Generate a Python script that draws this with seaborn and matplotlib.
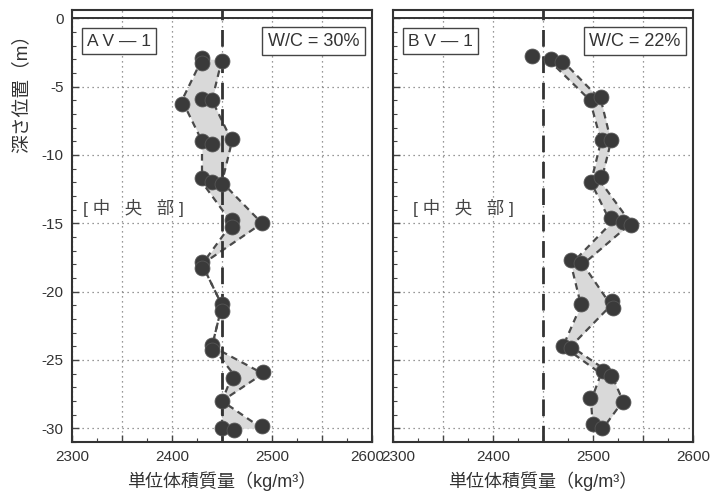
import numpy as np
import pandas as pd
import seaborn as sns
import matplotlib
matplotlib.use("Agg")
import matplotlib.pyplot as plt
import matplotlib.transforms as mtransforms
from matplotlib.ticker import MultipleLocator, FuncFormatter

sns.set_theme(style="white")
plt.rcParams['font.family'] = ['Liberation Sans', 'Noto Sans CJK JP', 'DejaVu Sans']
plt.rcParams['axes.unicode_minus'] = False

# ---------------- data ----------------
levels = [-3, -6, -9, -12, -15, -18, -21, -24, -26, -28, -30]

# AV-1 (W/C = 30%)
av_lo = [2430, 2410, 2430, 2430, 2460, 2430, 2450, 2440, 2461, 2450, 2450]
av_hi = [2450, 2440, 2460, 2450, 2490, 2430, 2450, 2440, 2491, 2450, 2490]
av_pt_x = [2430, 2430, 2450, 2410, 2430, 2440, 2430, 2440, 2460, 2430, 2440, 2450,
           2460, 2460, 2490, 2430, 2430, 2450, 2450, 2440, 2440, 2461, 2491, 2450,
           2450, 2462, 2490]
av_pt_y = [-2.9, -3.3, -3.1, -6.3, -5.9, -6.0, -9.0, -9.2, -8.8, -11.7, -11.95, -12.1,
           -14.75, -15.25, -15.0, -17.8, -18.3, -20.9, -21.4, -23.9, -24.3, -26.3, -25.9, -28.0,
           -29.95, -30.1, -29.8]

# BV-1 (W/C = 22%)
bv_lo = [2455, 2497, 2508, 2498, 2518, 2478, 2488, 2470, 2508, 2498, 2500]
bv_hi = [2468, 2508, 2518, 2508, 2538, 2490, 2518, 2478, 2518, 2530, 2510]
bv_pt_x = [2439, 2458, 2469, 2498, 2508, 2509, 2518, 2498, 2508, 2518, 2530, 2538,
           2478, 2488, 2488, 2519, 2520, 2470, 2478, 2510, 2518, 2497, 2530, 2500, 2509]
bv_pt_y = [-2.75, -3.0, -3.2, -6.0, -5.75, -8.9, -8.9, -12.0, -11.6, -14.6, -14.9, -15.1,
           -17.7, -17.9, -20.9, -20.7, -21.2, -24.0, -24.1, -25.8, -26.2, -27.8, -28.1, -29.7, -30.0]

ref_value = 2450
x_ticks_major = [2300, 2400, 2500, 2600]
panels = [
    dict(name="A V — 1", wc="W/C = 30%", lo=av_lo, hi=av_hi, px=av_pt_x, py=av_pt_y, tag_x=0.037),
    dict(name="B V — 1", wc="W/C = 22%", lo=bv_lo, hi=bv_hi, px=bv_pt_x, py=bv_pt_y, tag_x=0.067),
]

# ---------------- figure ----------------
W, H = 711, 499
fig = plt.figure(figsize=(W / 100, H / 100), dpi=100)
fig.patch.set_facecolor('white')
ax_rects = [[72 / W, 57 / H, 300 / W, 432 / H], [393 / W, 57 / H, 300 / W, 432 / H]]

dark = '#3a3a3a'
axes = []
for i, (p, rect) in enumerate(zip(panels, ax_rects)):
    ax = fig.add_axes(rect)
    axes.append(ax)
    ax.set_facecolor('white')
    env = pd.DataFrame({'depth': levels, 'lo': p['lo'], 'hi': p['hi']})
    pts = pd.DataFrame({'x': p['px'], 'y': p['py']})

    ax.fill_betweenx(env['depth'], env['lo'], env['hi'], color='#d9d9d9', lw=0, zorder=2)
    sns.lineplot(data=env, x='lo', y='depth', sort=False, orient='y', ax=ax,
                 color='#4a4a4a', lw=1.6, dashes=False, linestyle=(0, (3, 2.2)), zorder=3)
    sns.lineplot(data=env, x='hi', y='depth', sort=False, orient='y', ax=ax,
                 color='#4a4a4a', lw=1.6, dashes=False, linestyle=(0, (3, 2.2)), zorder=3)
    ax.axvline(ref_value, color='#333333', lw=2.0, linestyle=(0, (6, 3.5)), zorder=4)
    sns.scatterplot(data=pts, x='x', y='y', ax=ax, s=115, color=dark,
                    edgecolor='#555555', linewidth=0.6, zorder=5)
    ax.axhline(0, color='#333333', lw=1.4, zorder=4)

    ax.set_xlim(2300, 2600)
    ax.set_ylim(-31, 0.6)
    ax.xaxis.set_major_locator(MultipleLocator(50))
    ax.xaxis.set_minor_locator(MultipleLocator(25))
    ax.xaxis.set_major_formatter(FuncFormatter(
        lambda v, pos: f"{int(round(v))}" if int(round(v)) in x_ticks_major else ""))
    ax.yaxis.set_major_locator(MultipleLocator(5))
    ax.yaxis.set_minor_locator(MultipleLocator(1))
    ax.yaxis.set_major_formatter(FuncFormatter(lambda v, pos: f"{int(round(v))}"))
    ax.grid(True, which='major', linestyle=(0, (1, 3)), color='#777777', lw=0.9, zorder=1)
    ax.set_axisbelow(True)
    ax.tick_params(which='both', direction='in', color='#444444', bottom=True, left=True,
                   labelsize=11, labelcolor='#333333', pad=6)
    ax.tick_params(which='major', length=5, width=1)
    ax.tick_params(which='minor', length=3, width=0.8)
    if i == 1:
        ax.tick_params(labelleft=False)
    for s in ax.spines.values():
        s.set_color('#333333')
        s.set_linewidth(1.5)
    ax.set_xlabel('')
    ax.set_ylabel('')

    box = dict(boxstyle='square,pad=0.3', fc='white', ec='#444444', lw=1.0)
    ax.text(0.05, 0.928, p['name'], transform=ax.transAxes, ha='left', va='center',
            fontsize=12.5, color='#333333', bbox=box, zorder=6)
    ax.text(0.958, 0.928, p['wc'], transform=ax.transAxes, ha='right', va='center',
            fontsize=13, color='#333333', bbox=box, zorder=6)
    ax.text(p['tag_x'], 0.542, "[ 中   央   部 ]", transform=ax.transAxes, ha='left',
            va='center', fontsize=12.5, color='#444444', zorder=6)

    cx = rect[0] + rect[2] / 2
    fig.text(cx, 0.036, "単位体積質量（kg/m³）", ha='center', va='center',
             fontsize=13, color='#333333')

fig.text(0.031, 0.822, "深さ位置（m）", rotation=90, ha='center', va='center',
         fontsize=13.5, color='#333333')

# nudge the two touching edge labels apart (as in the reference they nearly meet)
fig.canvas.draw()
for lab in axes[0].xaxis.get_majorticklabels():
    if lab.get_text() == "2600":
        lab.set_transform(lab.get_transform() +
                          mtransforms.ScaledTranslation(-5 / 100, 0, fig.dpi_scale_trans))
for lab in axes[1].xaxis.get_majorticklabels():
    if lab.get_text() == "2300":
        lab.set_transform(lab.get_transform() +
                          mtransforms.ScaledTranslation(5 / 100, 0, fig.dpi_scale_trans))

fig.savefig("out.png", dpi=100, facecolor='white')
